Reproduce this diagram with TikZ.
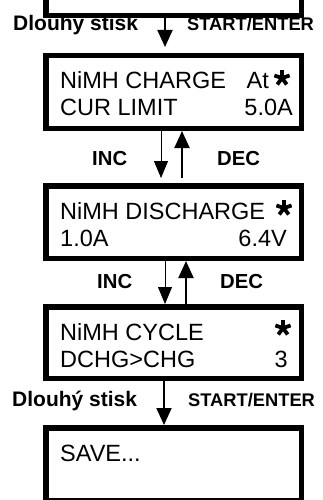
\documentclass[tikz,border=0pt]{standalone}
\usepackage{fontspec}
\setmainfont{Liberation Sans}
\usetikzlibrary{arrows.meta,calc}
\begin{document}
\begin{tikzpicture}[x=1pt,y=-1pt,
  lcd/.style={draw, line width=5.5pt, minimum width=255.5pt, minimum height=72.5pt, inner sep=0pt},
  txt/.style={inner sep=0pt, font=\fontsize{23.5}{27}\selectfont},
  txtl/.style={txt, anchor=base west},
  txtr/.style={txt, anchor=base east},
  lbl/.style={inner sep=0pt, anchor=base west, font=\fontsize{21}{24}\selectfont\bfseries},
  lblsm/.style={inner sep=0pt, anchor=base west, font=\fontsize{18.3}{22}\selectfont\bfseries},
  lblid/.style={inner sep=0pt, anchor=base west, font=\fontsize{20.3}{24}\selectfont\bfseries},
  starmark/.pic={\foreach \a in {-90,-18,54,126,198} \draw[line width=3.8pt] (0,0) -- (\a:8);},
  thinarr/.style={line width=0.8pt, -{Triangle[width=14pt,length=17pt]}},
  thickarr/.style={line width=2pt, -{Triangle[width=15pt,length=17pt]}},
  ]
\useasboundingbox (0,0) rectangle (323,500);
\clip (0,0) rectangle (323,500);
% boxes
\node[lcd] (b1) at (173.5,-20.75) {};
\node[lcd] (b2) at (173.5,92) {};
\node[lcd] (b3) at (173.5,222) {};
\node[lcd, minimum height=71.5pt] (b4) at (173.5,342.5) {};
\node[lcd] (b5) at (173.5,464) {};
% box 2 text
\node[txtl] (t2a) at (60,89) {NiMH CHARGE};
\node[txtr] (t2b) at (269,89) {At};
\pic (s2) at (282,78) {starmark};
\node[txtl] (t2c) at (60,116) {CUR LIMIT};
\node[txtr] (t2d) at (293,116) {5.0A};
% box 3 text
\node[txtl] (t3a) at (60,219) {NiMH DISCHARGE};
\pic (s3) at (284,208) {starmark};
\node[txtl] (t3c) at (60,246) {1.0A};
\node[txtr] (t3d) at (287,246) {6.4V};
% box 4 text
\node[txtl] (t4a) at (60,340) {NiMH CYCLE};
\pic (s4) at (283,328) {starmark};
\node[txtl] (t4c) at (60,367) {DCHG>CHG};
\node[txtr] (t4d) at (288,367) {3};
% box 5 text
\node[txtl] (t5a) at (60,461) {SAVE...};
% labels
\node[lbl] (l1) at (13,31) {Dlouhý stisk};
\node[lblsm] (l2) at (187,31) {START/ENTER};
\node[lblid] (l3) at (92,165) {INC};
\node[lblid] (l4) at (217,165) {DEC};
\node[lblid] (l5) at (97,288) {INC};
\node[lblid] (l6) at (220,288) {DEC};
\node[lbl] (l7) at (12,406) {Dlouhý stisk};
\node[lblsm] (l8) at (188,406) {START/ENTER};
% connectors
\coordinate (a1e) at ($(b2.north)+(-8.5,-6)$);
\draw[thickarr] (b1.south -| a1e) -- (a1e);
\coordinate (i1e) at ($(b3.north)+(-12.5,-5)$);
\draw[thinarr] (b2.south -| i1e) -- (i1e);
\coordinate (d1s) at ($(b3.north)+(8.5,-5)$);
\draw[thickarr] (d1s) -- (b2.south -| d1s);
\draw[thinarr] ($(b3.south)+(-8.5,0)$) -- ($(b4.north)+(-8.5,0)$);
\draw[thickarr] ($(b4.north)+(12.5,0)$) -- ($(b3.south)+(12.5,0)$);
\draw[thickarr] ($(b4.south)+(-9.5,0)$) -- ($(b5.north)+(-9.5,0)$);
\end{tikzpicture}
\end{document}
